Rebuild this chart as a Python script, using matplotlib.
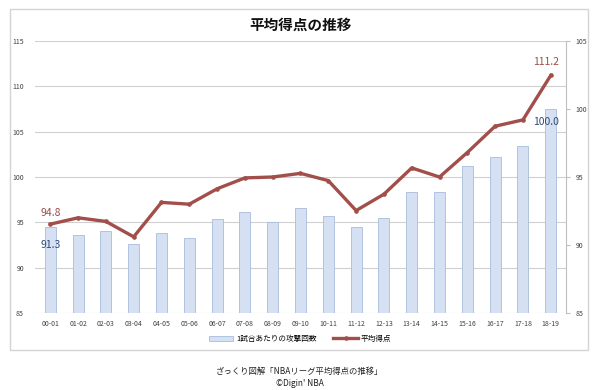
import matplotlib
matplotlib.use("Agg")
import matplotlib.pyplot as plt
from matplotlib.patches import Rectangle

plt.rcParams['font.family'] = ['Noto Sans CJK JP', 'DejaVu Sans']

seasons = ['00-01', '01-02', '02-03', '03-04', '04-05', '05-06', '06-07', '07-08', '08-09', '09-10',
           '10-11', '11-12', '12-13', '13-14', '14-15', '15-16', '16-17', '17-18', '18-19']
# average points per game (left axis)
points = [94.8, 95.5, 95.1, 93.4, 97.2, 97.0, 98.7, 99.9, 100.0, 100.4,
          99.6, 96.3, 98.1, 101.0, 100.0, 102.7, 105.6, 106.3, 111.2]
# possessions per game (right axis)
pace = [91.3, 90.7, 91.0, 90.1, 90.9, 90.5, 91.9, 92.4, 91.7, 92.7,
        92.1, 91.3, 92.0, 93.9, 93.9, 95.8, 96.5, 97.3, 100.0]

bar_label = '1試合あたりの攻撃回数'
line_label = '平均得点'
title = '平均得点の推移'
caption1 = 'ざっくり図解「NBAリーグ平均得点の推移」'
caption2 = '©Digin\' NBA'

line_color = '#A24F4B'
bar_face = '#D5E1F3'
bar_edge = '#A8BCDC'

fig = plt.figure(figsize=(6, 3.9), dpi=100)

# outer frame of the chart
fig.patches.append(Rectangle((10 / 600, 1 - 350 / 390), 578 / 600, 341 / 390,
                             transform=fig.transFigure, fill=False,
                             edgecolor='#D4D4D4', linewidth=1.0, zorder=-1))

# base axes: grid + left ticks + season labels
ax = fig.add_axes([35 / 600, 1 - 313 / 390, 531 / 600, 272 / 390])
ax2 = ax.twinx()   # bars, right scale
ax3 = ax.twinx()   # line, left scale
ax.set_zorder(0)
ax2.set_zorder(1)
ax3.set_zorder(2)
ax2.patch.set_visible(False)
ax3.patch.set_visible(False)

x = list(range(len(seasons)))

ax.set_ylim(85, 115)
ax.set_yticks([85, 90, 95, 100, 105, 110, 115])
ax.set_xlim(-0.55, len(seasons) - 0.45)
ax.set_xticks(x)
ax.set_xticklabels(seasons)
ax.grid(axis='y', color='#D0D0D0', linewidth=0.8)

ax2.bar(x, pace, width=0.4, bottom=0, color=bar_face, edgecolor=bar_edge,
        linewidth=0.6, label=bar_label)
ax2.set_ylim(85, 105)
ax2.set_yticks([85, 90, 95, 100, 105])

ax3.plot(x, points, color=line_color, linewidth=2.4, marker='o', markersize=2.3,
         label=line_label)
ax3.set_ylim(85, 115)
ax3.set_yticks([])

for a in (ax, ax2, ax3):
    for s in ['top', 'left', 'right', 'bottom']:
        a.spines[s].set_visible(False)
    a.tick_params(labelsize=5, colors='#404040', length=0, pad=6)

ax2.spines['right'].set_visible(True)
ax2.spines['right'].set_color('#BFBFBF')
ax2.tick_params(axis='y', length=3, color='#BFBFBF', pad=4)
ax.tick_params(axis='y', pad=8)
ax.tick_params(axis='x', pad=5)

# data labels
ax3.text(x[0] - 0.35, points[0] + 0.7, f'{points[0]:.1f}', color='#9A4E4A',
         fontsize=7.5, ha='left', va='bottom')
ax2.text(x[0] - 0.35, pace[0] - 0.9, f'{pace[0]:.1f}', color='#2E4A72',
         fontsize=7.5, ha='left', va='top')
ax3.text(x[-1] + 0.3, points[-1] + 0.9, f'{points[-1]:.1f}', color='#9A4E4A',
         fontsize=7.5, ha='right', va='bottom')
ax2.text(x[-1] + 0.3, pace[-1] - 0.6, f'{pace[-1]:.1f}', color='#2E4A72',
         fontsize=7.5, ha='right', va='top')

fig.text(0.5, 1 - 25 / 390, title, ha='center', va='center', fontsize=10.5,
         fontweight='bold', color='#111111')

h1, l1 = ax2.get_legend_handles_labels()
h2, l2 = ax3.get_legend_handles_labels()
fig.legend(h1 + h2, l1 + l2, loc='center', bbox_to_anchor=(0.5, 1 - 339 / 390),
           ncol=2, frameon=False, fontsize=5.5, handlelength=3.2, columnspacing=2.2,
           handletextpad=0.4)

fig.text(0.5, 1 - 371 / 390, caption1, ha='center', va='center', fontsize=6, color='#222222')
fig.text(0.5, 1 - 384 / 390, caption2, ha='center', va='center', fontsize=6, color='#222222')

fig.savefig('out.png', dpi=100, facecolor='white')
